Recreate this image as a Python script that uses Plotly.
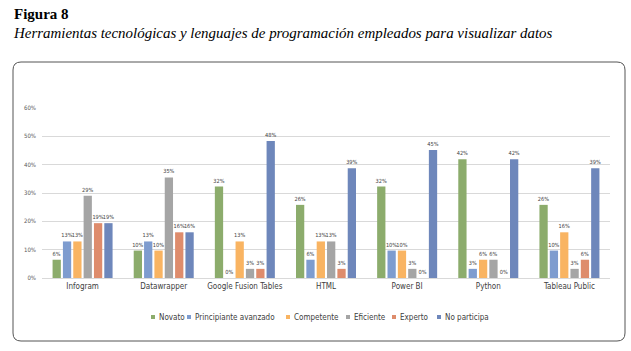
import plotly.graph_objects as go

categories = ["Infogram", "Datawrapper", "Google Fusion Tables", "HTML", "Power BI", "Python", "Tableau Public"]
novato = [6.45, 9.68, 32.26, 25.81, 32.26, 41.94, 25.81]
principiante = [12.90, 12.90, 0.0, 6.45, 9.68, 3.23, 9.68]
competente = [12.90, 9.68, 12.90, 12.90, 9.68, 6.45, 16.13]
eficiente = [29.03, 35.48, 3.23, 12.90, 3.23, 6.45, 3.23]
experto = [19.35, 16.13, 3.23, 3.23, 0.0, 0.0, 6.45]
no_participa = [19.35, 16.13, 48.39, 38.71, 45.16, 41.94, 38.71]

series = [
    ("Novato", novato, "#8cac6c"),
    ("Principiante avanzado", principiante, "#7e9ccf"),
    ("Competente", competente, "#f9b462"),
    ("Eficiente", eficiente, "#a5a5a5"),
    ("Experto", experto, "#de8c6c"),
    ("No participa", no_participa, "#6e87bb"),
]
yticks = [0, 10, 20, 30, 40, 50, 60]

FONT = "DejaVu Sans Condensed, Liberation Sans Narrow, sans-serif"
SERIF = "Liberation Serif, Times New Roman, serif"

fig = go.Figure()
for name, vals, col in series:
    fig.add_trace(go.Bar(
        name=name, x=categories, y=vals, marker=dict(color=col, line=dict(width=0)),
        texttemplate="%{y:.0f}%", textposition="outside", textangle=0,
        constraintext="none",
        textfont=dict(size=5.6, color="#404040", family=FONT),
        outsidetextfont=dict(size=5.6, color="#404040", family=FONT),
        cliponaxis=False, showlegend=False,
    ))

L, R, T, B = 42, 21, 108, 73
W, H = 631, 351
pw, ph = W - L - R, H - T - B

def px(x):
    return (x - L) / pw

def py(y):
    return (H - B - y) / ph

# rounded box
x0, x1, y0, y1, r = 13, 625, 62, 341, 8
path = (f"M {px(x0+r)},{py(y0)} L {px(x1-r)},{py(y0)} Q {px(x1)},{py(y0)} {px(x1)},{py(y0+r)} "
        f"L {px(x1)},{py(y1-r)} Q {px(x1)},{py(y1)} {px(x1-r)},{py(y1)} "
        f"L {px(x0+r)},{py(y1)} Q {px(x0)},{py(y1)} {px(x0)},{py(y1-r)} "
        f"L {px(x0)},{py(y0+r)} Q {px(x0)},{py(y0)} {px(x0+r)},{py(y0)} Z")

shapes = [dict(type="path", xref="paper", yref="paper", path=path,
               line=dict(color="#555555", width=1), fillcolor="rgba(0,0,0,0)", layer="below")]
annotations = [
    dict(text="<b>Figura 8</b>", xref="paper", yref="paper", x=px(12), y=py(14),
         xanchor="left", yanchor="middle", showarrow=False,
         font=dict(size=15, color="black", family=SERIF)),
    dict(text="<i>Herramientas tecnológicas y lenguajes de programación empleados para visualizar datos</i>",
         xref="paper", yref="paper", x=px(11), y=py(33),
         xanchor="left", yanchor="middle", showarrow=False,
         font=dict(size=14.95, color="black", family=SERIF)),
]

# manual compact legend
legend_x = [153, 189, 288, 348, 394, 439]
ly = 317
for (name, vals, col), lx in zip(series, legend_x):
    shapes.append(dict(type="rect", xref="paper", yref="paper",
                       x0=px(lx - 2), x1=px(lx + 2), y0=py(ly + 2), y1=py(ly - 2),
                       fillcolor=col, line=dict(width=0)))
    annotations.append(dict(text=name, xref="paper", yref="paper", x=px(lx + 4), y=py(ly),
                            xanchor="left", yanchor="middle", showarrow=False,
                            font=dict(size=8, color="#404040", family=FONT)))

fig.update_layout(
    width=W, height=H,
    margin=dict(l=L, r=R, t=T, b=B),
    paper_bgcolor="white", plot_bgcolor="white",
    barmode="group", bargap=0.235, bargroupgap=0.2,
    showlegend=False,
    xaxis=dict(showgrid=False, showline=True, linecolor="#d9d9d9", linewidth=1,
               tickfont=dict(size=8, color="#404040", family=FONT), ticks=""),
    yaxis=dict(range=[0, 60], tickvals=yticks, ticktext=[f"{v}%" for v in yticks],
               showgrid=True, gridcolor="#d9d9d9", gridwidth=1, zeroline=False,
               showline=False, tickfont=dict(size=6, color="#595959", family=FONT),
               ticklabelstandoff=5),
    shapes=shapes,
    annotations=annotations,
)

fig.write_html("out.html")
